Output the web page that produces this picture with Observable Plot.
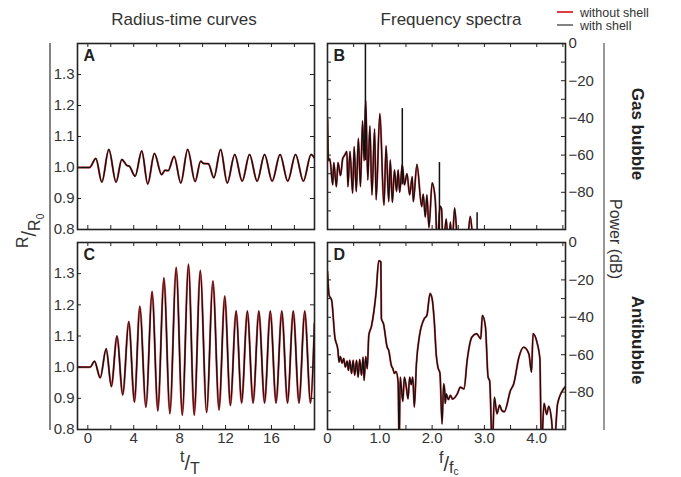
<!DOCTYPE html>
<html><head><meta charset="utf-8">
<script src="https://cdn.jsdelivr.net/npm/d3@7"></script>
<script src="https://cdn.jsdelivr.net/npm/@observablehq/plot@0.6"></script>
<style>
body{margin:0;background:#fff;font-family:"Liberation Sans",Arial,sans-serif;}
#wrap{position:relative;width:681px;height:477px;overflow:hidden;background:#fff;}
#wrap svg{position:absolute;}
</style></head><body><div id="wrap"></div>
<script>
// ---- data ----
// Panel A: gas bubble radius-time (extrema), t/T and R/R0
const radiusA_t = [-0.9, 0.15, 0.7, 1.22, 1.83, 2.46, 2.96, 3.39, 3.62, 4.12, 4.7, 5.22, 5.8, 6.43, 6.72, 7.0, 7.52, 8.1, 8.7, 9.35, 9.83, 10.1, 10.5, 10.98, 11.57, 12.15, 12.8, 13.45, 14.09, 14.75, 15.4, 16.06, 16.75, 17.42, 18.1, 18.78, 19.45, 19.75];
const radiusA_R = [1, 1, 1.029, 0.953, 1.058, 0.953, 1.026, 1.007, 1.004, 0.972, 1.053, 0.947, 1.045, 0.977, 0.991, 0.99, 1.036, 0.95, 1.058, 0.955, 1.02, 1.013, 1.012, 0.967, 1.058, 0.95, 1.042, 0.956, 1.042, 0.956, 1.042, 0.956, 1.042, 0.956, 1.042, 0.956, 1.042, 1.03];
// Panel C: antibubble radius-time (extrema)
const radiusC_t = [-0.9, 0.2, 0.58, 1.08, 1.6, 2.05, 2.54, 3.04, 3.57, 4.06, 4.53, 5.06, 5.6, 6.1, 6.63, 7.15, 7.7, 8.23, 8.77, 9.27, 9.8, 10.35, 10.9, 11.43, 11.93, 12.42, 12.92, 13.4, 13.9, 14.4, 14.9, 15.4, 15.9, 16.4, 16.9, 17.4, 17.9, 18.4, 18.9, 19.4, 19.75];
const radiusC_R = [1, 1, 1.019, 0.966, 1.059, 0.938, 1.10, 0.911, 1.146, 0.888, 1.195, 0.872, 1.243, 0.86, 1.286, 0.851, 1.32, 0.846, 1.33, 0.846, 1.31, 0.855, 1.276, 0.863, 1.228, 0.877, 1.18, 0.885, 1.18, 0.885, 1.18, 0.885, 1.18, 0.885, 1.18, 0.885, 1.18, 0.885, 1.18, 0.885, 1.14];
// Panel B: gas bubble spectrum, f/fc and power (dB)
const specB_f = [0, 0.02, 0.045, 0.1, 0.12, 0.17, 0.2, 0.25, 0.29, 0.33, 0.37, 0.39, 0.43, 0.48, 0.51, 0.55, 0.59, 0.63, 0.67, 0.7, 0.73, 0.77, 0.81, 0.85, 0.9, 0.93, 1.0, 1.08, 1.12, 1.17, 1.2, 1.24, 1.28, 1.32, 1.35, 1.38, 1.43, 1.47, 1.52, 1.57, 1.62, 1.64, 1.71, 1.8, 1.83, 1.87, 1.9, 1.94, 2.0, 2.06, 2.1, 2.15, 2.18, 2.21, 2.27, 2.31, 2.35, 2.38, 2.43, 2.5, 2.66, 2.73, 2.8, 4.55];
const specB_dB = [-41, -63, -62, -76, -64, -77, -64, -71, -62, -60, -58, -77, -58, -80.5, -55.5, -79.6, -51, -77, -41.6, -63, -30.5, -73.4, -44.3, -81.4, -46, -84, -37.7, -87, -55, -85, -62.7, -85.4, -68, -79.6, -68, -80, -65, -76, -70, -81.4, -71.6, -85, -65, -87.7, -81, -93.4, -81.4, -99, -75, -84, -110, -87.5, -89, -110, -94.3, -110, -96, -110, -88.5, -110, -110, -93, -110, -110];
// narrow spikes seen only in the "with shell" spectrum of panel B
const spikesB_f = [0.725, 1.43, 2.14, 2.86];
const spikesB_from = [-63, -76, -100, -100];
const spikesB_to = [0, -35, -64, -91];
// Panel D: antibubble spectrum
const specD_f = [0, 0.03, 0.08, 0.14, 0.2, 0.22, 0.245, 0.28, 0.31, 0.34, 0.375, 0.4, 0.425, 0.46, 0.49, 0.52, 0.555, 0.585, 0.615, 0.65, 0.68, 0.7, 0.73, 0.76, 0.79, 0.84, 0.93, 0.98, 1.02, 1.03, 1.07, 1.14, 1.17, 1.22, 1.25, 1.28, 1.31, 1.35, 1.37, 1.39, 1.41, 1.44, 1.47, 1.505, 1.54, 1.57, 1.6, 1.63, 1.66, 1.7, 1.76, 1.85, 1.9, 1.96, 2.0, 2.04, 2.08, 2.11, 2.15, 2.19, 2.22, 2.24, 2.25, 2.27, 2.31, 2.35, 2.39, 2.48, 2.54, 2.61, 2.67, 2.76, 2.85, 2.93, 2.96, 3.02, 3.07, 3.1, 3.15, 3.19, 3.24, 3.29, 3.33, 3.38, 3.5, 3.56, 3.66, 3.75, 3.85, 3.9, 3.93, 4.01, 4.06, 4.09, 4.14, 4.19, 4.23, 4.28, 4.33, 4.4, 4.55];
const specD_dB = [-15.7, -28, -31, -50.5, -57.7, -64, -61, -64.5, -62, -66.6, -63.4, -68.4, -63, -70, -63, -71, -63, -72, -62.5, -71, -61.3, -73.8, -61, -67.5, -49.6, -44.8, -26.4, -9.8, -10.4, -40.7, -43.4, -55.9, -57.7, -65.7, -67.5, -70, -69, -74.6, -110, -72, -77, -85, -72, -77, -83.6, -72, -76, -72, -88, -64.8, -49.6, -40.7, -39, -27.3, -30, -41.6, -60.4, -66.6, -70, -97, -75.6, -79, -86, -81, -84, -81.7, -83.7, -81, -77.4, -78.3, -63, -50.6, -48.8, -51.5, -39, -45.2, -72, -74, -110, -82.7, -91.6, -87, -89.7, -90.5, -79, -75.6, -61.3, -56, -59.6, -69.3, -48.8, -54, -62, -110, -86, -92, -87.6, -94, -110, -86, -77];
// ticks and labels
const timeTicks = [0, 2, 4, 6, 8, 10, 12, 14, 16, 18];
const timeLabels = [0, 4, 8, 12, 16];
const radiusTicks = [0.8, 0.9, 1.0, 1.1, 1.2, 1.3];
const freqTicks = [0.5, 1, 1.5, 2, 2.5, 3, 3.5, 4, 4.5];
const freqLabels = [0, 1, 2, 3, 4];
const powerTicks = [-90, -80, -70, -60, -50, -40, -30, -20, -10];
const powerLabels = [0, -20, -40, -60, -80];
const seriesNames = ["without shell", "with shell"];

// ---- drawing ----
const FONT = "Liberation Sans, Arial, sans-serif";
const RED = "#e0242a", BLK = "#111", TXT = "#333";
const wrap = document.getElementById("wrap");

function place(svg, left, top) {
  svg.style.left = left + "px";
  svg.style.top = top + "px";
  wrap.appendChild(svg);
}

function radiusPanel(t, R, letter, showX, H, mt, mb) {
  const W = 320, ml = 77, mr = 6;
  const iw = W - ml - mr, ih = H - mt - mb;
  const data = t.map((d, i) => ({t: d, r: R[i]}));
  return Plot.plot({
    width: W, height: H, marginLeft: ml, marginRight: mr, marginTop: mt, marginBottom: mb,
    style: {background: "transparent", fontFamily: FONT, color: TXT, overflow: "visible"},
    x: {domain: [-0.9, 19.75], axis: null},
    y: {domain: [0.8, 1.4], axis: null},
    marks: [
      Plot.line(data, {x: "t", y: "r", stroke: RED, strokeWidth: 2.1, strokeOpacity: 0.85, curve: "monotone-x", clip: true}),
      Plot.line(data, {x: "t", y: "r", stroke: BLK, strokeWidth: 1.4, curve: "monotone-x", clip: true}),
      Plot.tickX(timeTicks, {x: d => d, insetBottom: ih - 4, stroke: "#222"}),
      Plot.tickX(timeTicks, {x: d => d, insetTop: ih - 4, stroke: "#222"}),
      Plot.tickY(radiusTicks, {y: d => d, insetRight: iw - 4, stroke: "#222"}),
      Plot.tickY(radiusTicks, {y: d => d, insetLeft: iw - 4, stroke: "#222"}),
      Plot.text(radiusTicks, {y: d => d, frameAnchor: "left", dx: -3, textAnchor: "end", text: d => d.toFixed(1), fontSize: 15, fill: TXT}),
      showX ? Plot.text(timeLabels, {x: d => d, frameAnchor: "bottom", lineAnchor: "top", dy: 3, text: d => String(d), fontSize: 15, fill: TXT}) : null,
      Plot.frame({stroke: "#222", strokeWidth: 1.6}),
      Plot.text([letter], {frameAnchor: "top-left", dx: 6, dy: 6, lineAnchor: "top", textAnchor: "start", fontWeight: "bold", fontSize: 16, fill: "#222"})
    ]
  });
}

function specPanel(f, db, spikes, letter, showX, H, mt, mb) {
  const W = 361, ml = 7, mr = 116;
  const iw = W - ml - mr, ih = H - mt - mb;
  const data = f.map((d, i) => ({f: d, p: db[i]}));
  return Plot.plot({
    width: W, height: H, marginLeft: ml, marginRight: mr, marginTop: mt, marginBottom: mb,
    style: {background: "transparent", fontFamily: FONT, color: TXT, overflow: "visible"},
    x: {domain: [0, 4.55], axis: null},
    y: {domain: [-100, 0], axis: null},
    marks: [
      Plot.line(data, {x: "f", y: "p", stroke: RED, strokeWidth: 2.0, strokeOpacity: 0.85, curve: "monotone-x", clip: true}),
      Plot.line(data, {x: "f", y: "p", stroke: BLK, strokeWidth: 1.3, curve: "monotone-x", clip: true}),
      spikes ? Plot.ruleX(spikes, {x: "f", y1: "lo", y2: "hi", stroke: BLK, strokeWidth: 1.5, clip: true}) : null,
      Plot.tickX(freqTicks, {x: d => d, insetBottom: ih - 4, stroke: "#222"}),
      Plot.tickX(freqTicks, {x: d => d, insetTop: ih - 4, stroke: "#222"}),
      Plot.tickY(powerTicks, {y: d => d, insetRight: iw - 4, stroke: "#222"}),
      Plot.tickY(powerTicks, {y: d => d, insetLeft: iw - 4, stroke: "#222"}),
      Plot.text(powerLabels, {y: d => d, frameAnchor: "right", dx: 3, textAnchor: "start", text: d => d === 0 ? "0" : "\u2212" + Math.abs(d), fontSize: 15, fill: TXT}),
      showX ? Plot.text(freqLabels, {x: d => d, frameAnchor: "bottom", lineAnchor: "top", dy: 3, text: d => d === 0 ? "0" : d.toFixed(1), fontSize: 15, fill: TXT}) : null,
      Plot.frame({stroke: "#222", strokeWidth: 1.6}),
      Plot.text([letter], {frameAnchor: "top-left", dx: 6, dy: 6, lineAnchor: "top", textAnchor: "start", fontWeight: "bold", fontSize: 16, fill: "#222"})
    ]
  });
}

const spikesB = spikesB_f.map((d, i) => ({f: d, lo: spikesB_from[i], hi: spikesB_to[i]}));

place(radiusPanel(radiusA_t, radiusA_R, "A", false, 236, 43, 7), 0, 0);
place(radiusPanel(radiusC_t, radiusC_R, "C", true, 241, 6, 48), 0, 236);
place(specPanel(specB_f, specB_dB, spikesB, "B", false, 236, 43, 7), 320, 0);
place(specPanel(specD_f, specD_dB, null, "D", true, 241, 6, 48), 320, 236);

// ---- annotations overlay ----
const ov = d3.select(wrap).append("svg")
  .attr("width", 681).attr("height", 477)
  .style("left", "0px").style("top", "0px")
  .style("pointer-events", "none")
  .style("font-family", FONT);

ov.append("text").attr("x", 184).attr("y", 25).attr("text-anchor", "middle")
  .attr("font-size", 17).attr("fill", TXT).text("Radius-time curves");
ov.append("text").attr("x", 451).attr("y", 25).attr("text-anchor", "middle")
  .attr("font-size", 17).attr("fill", TXT).text("Frequency spectra");

// legend
const legendColors = [RED, "#777"];
seriesNames.forEach((name, i) => {
  const y = 12 + i * 13;
  ov.append("line").attr("x1", 557).attr("x2", 573).attr("y1", y).attr("y2", y)
    .attr("stroke", legendColors[i]).attr("stroke-width", 1.8);
  ov.append("text").attr("x", 580).attr("y", y + 4.5).attr("font-size", 12.5)
    .attr("fill", TXT).text(name);
});

// left bracket line and right grey line
ov.append("line").attr("x1", 50).attr("x2", 50).attr("y1", 43).attr("y2", 430)
  .attr("stroke", "#333").attr("stroke-width", 1.2);
ov.append("line").attr("x1", 604).attr("x2", 604).attr("y1", 43).attr("y2", 430)
  .attr("stroke", "#999").attr("stroke-width", 2);

// R/R0 label (rotated slashed fraction)
const rt = ov.append("text").attr("transform", "translate(31,233) rotate(-90)").attr("fill", TXT)
  .attr("x", -15).attr("y", -3).attr("font-size", 16);
rt.append("tspan").text("R");
rt.append("tspan").attr("dy", 8).attr("font-size", 20).text("/");
rt.append("tspan").attr("dy", 4).text("R");
rt.append("tspan").attr("dy", 4).attr("font-size", 10).text("0");

// t/T
const tt = ov.append("text").attr("x", 180).attr("y", 462).attr("font-size", 16).attr("fill", TXT);
tt.append("tspan").text("t");
tt.append("tspan").attr("dy", 8).attr("font-size", 20).text("/");
tt.append("tspan").attr("dy", 4).text("T");

// f/fc
const ft = ov.append("text").attr("x", 439).attr("y", 463).attr("font-size", 16).attr("fill", TXT);
ft.append("tspan").text("f");
ft.append("tspan").attr("dy", 8).attr("font-size", 20).text("/");
ft.append("tspan").attr("dy", 2).text("f");
ft.append("tspan").attr("dy", 2).attr("font-size", 10).text("c");

// right-side labels
ov.append("text").attr("transform", "translate(610,239) rotate(90)").attr("text-anchor", "middle")
  .attr("font-size", 16).attr("fill", TXT).text("Power (dB)");
ov.append("text").attr("transform", "translate(632,134) rotate(90)").attr("text-anchor", "middle")
  .attr("font-size", 17).attr("font-weight", "bold").attr("fill", "#222").text("Gas bubble");
ov.append("text").attr("transform", "translate(632,340) rotate(90)").attr("text-anchor", "middle")
  .attr("font-size", 17).attr("font-weight", "bold").attr("fill", "#222").text("Antibubble");
</script>
</body></html>
